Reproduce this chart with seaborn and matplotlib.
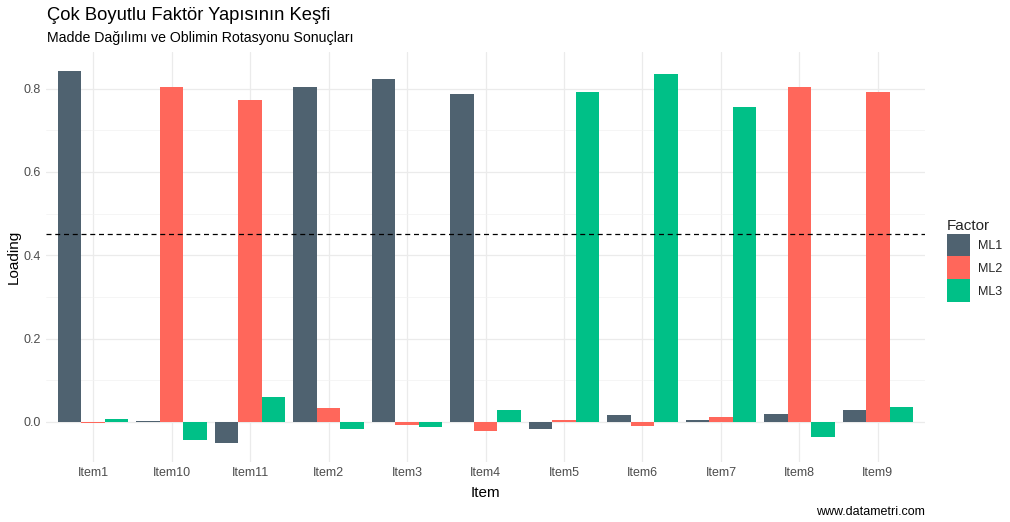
import pandas as pd
import matplotlib.pyplot as plt
import seaborn as sns
from matplotlib.patches import Patch
from matplotlib.ticker import MultipleLocator

sns.set_theme(style="white")
plt.rcParams['font.family'] = ['Liberation Sans', 'DejaVu Sans']

# data
items = ["Item1", "Item10", "Item11", "Item2", "Item3", "Item4",
         "Item5", "Item6", "Item7", "Item8", "Item9"]
factors = ["ML1", "ML2", "ML3"]
ml1 = [0.843, 0.003, -0.050, 0.805, 0.824, 0.788, -0.016, 0.017, 0.005, 0.019, 0.029]
ml2 = [-0.003, 0.805, 0.773, 0.034, -0.007, -0.021, 0.005, -0.009, 0.012, 0.805, 0.793]
ml3 = [0.007, -0.043, 0.060, -0.017, -0.012, 0.029, 0.793, 0.836, 0.757, -0.036, 0.036]
cutoff = 0.45

colors = {"ML1": "#4f6270", "ML2": "#ff675b", "ML3": "#00c087"}

df = pd.DataFrame({
    "Item": items * 3,
    "Factor": ["ML1"] * len(items) + ["ML2"] * len(items) + ["ML3"] * len(items),
    "Loading": ml1 + ml2 + ml3,
})

fig = plt.figure(figsize=(10.1, 5.22), dpi=100)
ax = fig.add_axes([46 / 1010, 60.5 / 522, 879 / 1010, 409.5 / 522])

sns.barplot(ax=ax, data=df, x="Item", y="Loading", hue="Factor",
            order=items, hue_order=factors, palette=colors,
            width=0.9, linewidth=0, saturation=1, legend=False, zorder=2)

ax.axhline(cutoff, color="black", linestyle=(0, (4, 3)), linewidth=0.9, zorder=3)

ax.set_xlim(-0.6, len(items) - 0.4)
ax.set_ylim(-0.095, 0.888)
ax.yaxis.set_major_locator(MultipleLocator(0.2))
ax.yaxis.set_minor_locator(MultipleLocator(0.1))
ax.yaxis.set_major_formatter(plt.FuncFormatter(lambda v, p: f"{v:.1f}"))

ax.grid(which="major", color="#ebebeb", linewidth=0.9, zorder=0)
ax.grid(which="minor", axis="y", color="#f2f2f2", linewidth=0.5, zorder=0)
ax.set_axisbelow(True)
for s in ax.spines.values():
    s.set_visible(False)

ax.tick_params(axis="both", which="both", length=0, labelsize=9,
               labelcolor="#4d4d4d", pad=4)
ax.set_xlabel("Item", fontsize=11, color="black", labelpad=5)
ax.set_ylabel("Loading", fontsize=11, color="black", labelpad=2)

fig.text(47 / 1010, 1 - 15 / 522, "Çok Boyutlu Faktör Yapısının Keşfi",
         fontsize=13.2, va="center", ha="left", color="black")
fig.text(47 / 1010, 1 - 38 / 522, "Madde Dağılımı ve Oblimin Rotasyonu Sonuçları",
         fontsize=10.2, va="center", ha="left", color="black")
fig.text(925 / 1010, 1 - 512 / 522, "www.datametri.com",
         fontsize=9, va="center", ha="right", color="black")

handles = [Patch(facecolor=colors[f], edgecolor="none", label=f) for f in factors]
leg = fig.legend(handles=handles, title="Factor", loc="upper left",
                 bbox_to_anchor=(944 / 1010, 1 - 217 / 522), frameon=False,
                 fontsize=9, title_fontsize=11, handlelength=1.85,
                 handleheight=2.45, labelspacing=0.0, handletextpad=0.65,
                 borderaxespad=0, borderpad=0.2)
leg._legend_box.align = "left"

fig.savefig("out.png", dpi=100)
